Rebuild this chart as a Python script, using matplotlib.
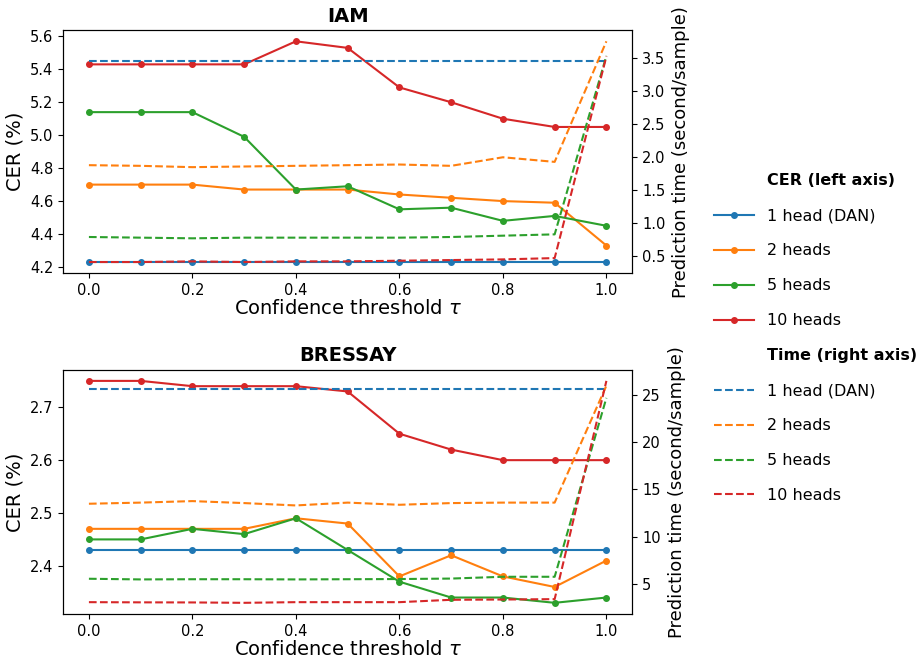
import matplotlib.pyplot as plt
from matplotlib.lines import Line2D
from matplotlib.ticker import MultipleLocator

thresholds = [0.0, 0.1, 0.2, 0.3, 0.4, 0.5, 0.6, 0.7, 0.8, 0.9, 1.0]
labels = ['1 head (DAN)', '2 heads', '5 heads', '10 heads']
colors = ['#1f77b4', '#ff7f0e', '#2ca02c', '#d62728']

# IAM
iam_cer = [
    [4.23, 4.23, 4.23, 4.23, 4.23, 4.23, 4.23, 4.23, 4.23, 4.23, 4.23],
    [4.70, 4.70, 4.70, 4.67, 4.67, 4.67, 4.64, 4.62, 4.60, 4.59, 4.33],
    [5.14, 5.14, 5.14, 4.99, 4.67, 4.69, 4.55, 4.56, 4.48, 4.51, 4.45],
    [5.43, 5.43, 5.43, 5.43, 5.57, 5.53, 5.29, 5.20, 5.10, 5.05, 5.05],
]
iam_time = [
    [3.46, 3.46, 3.46, 3.46, 3.46, 3.46, 3.46, 3.46, 3.46, 3.46, 3.46],
    [1.88, 1.87, 1.85, 1.86, 1.87, 1.88, 1.89, 1.87, 2.00, 1.93, 3.76],
    [0.79, 0.78, 0.77, 0.78, 0.78, 0.78, 0.78, 0.79, 0.81, 0.83, 3.54],
    [0.41, 0.41, 0.42, 0.41, 0.42, 0.42, 0.43, 0.44, 0.45, 0.47, 3.53],
]

# BRESSAY
bre_cer = [
    [2.43, 2.43, 2.43, 2.43, 2.43, 2.43, 2.43, 2.43, 2.43, 2.43, 2.43],
    [2.47, 2.47, 2.47, 2.47, 2.49, 2.48, 2.38, 2.42, 2.38, 2.36, 2.41],
    [2.45, 2.45, 2.47, 2.46, 2.49, 2.43, 2.37, 2.34, 2.34, 2.33, 2.34],
    [2.75, 2.75, 2.74, 2.74, 2.74, 2.73, 2.65, 2.62, 2.60, 2.60, 2.60],
]
bre_time = [
    [25.67, 25.67, 25.67, 25.67, 25.67, 25.67, 25.67, 25.67, 25.67, 25.67, 25.67],
    [13.48, 13.6, 13.76, 13.55, 13.3, 13.6, 13.37, 13.55, 13.6, 13.6, 26.0],
    [5.53, 5.46, 5.48, 5.48, 5.46, 5.48, 5.5, 5.55, 5.74, 5.74, 24.7],
    [3.05, 3.03, 3.02, 2.98, 3.05, 3.05, 3.05, 3.3, 3.33, 3.37, 26.5],
]

fig = plt.figure(figsize=(9.19, 6.58), dpi=100)
ax1 = fig.add_axes([0.0686, 0.585, 0.6194, 0.369])
ax2 = fig.add_axes([0.0686, 0.067, 0.6194, 0.371])

handles_cer = []
handles_time = []
setup = [(ax1, 'IAM', iam_cer, iam_time, 0.2, 0.5),
         (ax2, 'BRESSAY', bre_cer, bre_time, 0.1, 5)]
for ax, title, cer, tm, lstep, rstep in setup:
    axr = ax.twinx()
    for i in range(4):
        l, = ax.plot(thresholds, cer[i], color=colors[i], marker='o',
                     markersize=4, label=labels[i])
        d, = axr.plot(thresholds, tm[i], color=colors[i], linestyle='--',
                      label=labels[i])
        if ax is ax1:
            handles_cer.append(l)
            handles_time.append(d)
    ax.set_title(title, fontsize=14, fontweight='bold')
    ax.set_xlabel(r'Confidence threshold $\tau$', fontsize=14, labelpad=1)
    ax.set_ylabel('CER (%)', fontsize=14, labelpad=4)
    axr.set_ylabel('Prediction time (second/sample)', fontsize=13, labelpad=5)
    ax.yaxis.set_major_locator(MultipleLocator(lstep))
    axr.yaxis.set_major_locator(MultipleLocator(rstep))
    ax.tick_params(labelsize=10.5)
    axr.tick_params(labelsize=10.5)

blank = Line2D([], [], linestyle='none')
handles = [blank] + handles_cer + [blank] + handles_time
texts = ['CER (left axis)'] + labels + ['Time (right axis)'] + labels
leg = fig.legend(handles, texts, loc='center left', bbox_to_anchor=(0.770, 0.486),
                 frameon=False, fontsize=11.5, borderaxespad=0,
                 labelspacing=1.25, handlelength=2.5, handletextpad=0.8)
for t in leg.get_texts():
    if 'axis' in t.get_text():
        t.set_fontweight('bold')

plt.savefig('out.png', dpi=100)
